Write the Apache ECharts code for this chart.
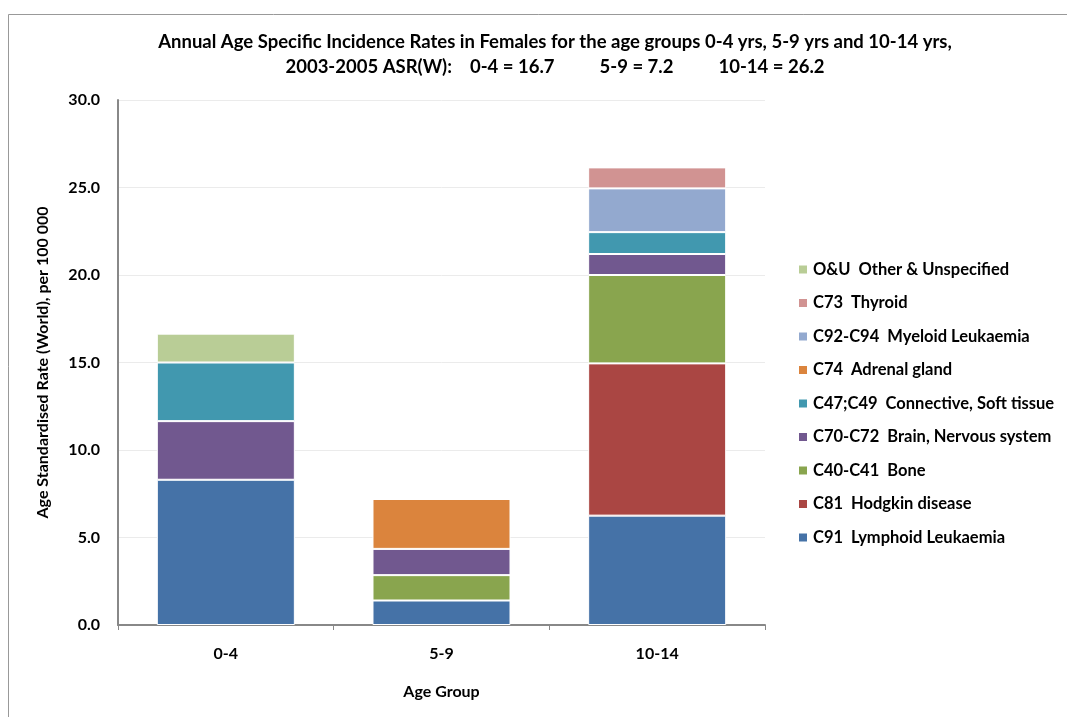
<!DOCTYPE html>
<html>
<head>
<meta charset="utf-8">
<script src="https://cdn.jsdelivr.net/npm/echarts@6/dist/echarts.min.js"></script>
<style>
  html, body { margin: 0; padding: 0; background: #fff; }
  #chart { width: 1067px; height: 717px; }
</style>
</head>
<body>
<div id="chart"></div>
<script>
// age groups on the x axis
var ageGroups = ['0-4', '5-9', '10-14'];

// rates per 100 000, one value per age group (stacked bottom to top)
var lymphoid   = [8.3, 1.4, 6.25];
var hodgkin    = [0, 0, 8.7];
var bone       = [0, 1.45, 5.05];
var brain      = [3.35, 1.5, 1.2];
var connective = [3.35, 0, 1.25];
var adrenal    = [0, 2.85, 0];
var myeloid    = [0, 0, 2.5];
var thyroid    = [0, 0, 1.2];
var other      = [1.65, 0, 0];

var seriesNames = [
  'C91  Lymphoid Leukaemia',
  'C81  Hodgkin disease',
  'C40-C41  Bone',
  'C70-C72  Brain, Nervous system',
  'C47;C49  Connective, Soft tissue',
  'C74  Adrenal gland',
  'C92-C94  Myeloid Leukaemia',
  'C73  Thyroid',
  'O&U  Other & Unspecified'
];
var seriesData = [lymphoid, hodgkin, bone, brain, connective, adrenal, myeloid, thyroid, other];
var colors = ['#4572A7', '#AA4643', '#89A54E', '#71588F', '#4198AF', '#DB843D', '#93A9CF', '#D19392', '#B9CD96'];

var font = 'Lato, "Open Sans", sans-serif';

var myChart = echarts.init(document.getElementById('chart'));

var series = seriesNames.map(function (name, i) {
  return {
    name: name,
    type: 'bar',
    stack: 'total',
    barWidth: '64%',
    data: seriesData[i].map(function (v) { return v === 0 ? null : v; }),
    itemStyle: { color: colors[i], borderColor: '#fff', borderWidth: 1 }
  };
});

var option = {
  backgroundColor: '#fff',
  animation: false,
  title: {
    text: 'Annual Age Specific Incidence Rates in Females for the age groups 0-4 yrs, 5-9 yrs and 10-14 yrs,\n2003-2005 ASR(W):    0-4 = 16.7          5-9 = 7.2          10-14 = 26.2',
    left: 550,
    top: 25,
    textAlign: 'center',
    textStyle: { fontFamily: font, fontSize: 18.5, fontWeight: 'bold', color: '#000', lineHeight: 25 }
  },
  legend: {
    orient: 'vertical',
    left: 792,
    top: 256,
    itemWidth: 10,
    itemHeight: 10,
    itemGap: 16.5,
    icon: 'rect',
    data: seriesNames.slice().reverse(),
    textStyle: { fontFamily: font, fontSize: 16.5, fontWeight: 'bold', color: '#000' }
  },
  grid: { left: 118, right: 302, top: 100, bottom: 92 },
  xAxis: {
    type: 'category',
    data: ageGroups,
    name: 'Age Group',
    nameLocation: 'middle',
    nameGap: 59,
    nameTextStyle: { fontFamily: font, fontSize: 16, fontWeight: 'bold', color: '#000' },
    axisLine: { lineStyle: { color: '#888', width: 2 } },
    axisTick: { show: true, length: 5, lineStyle: { color: '#888' } },
    axisLabel: { fontFamily: font, fontSize: 16, fontWeight: 'bold', color: '#000', margin: 21 }
  },
  yAxis: {
    type: 'value',
    min: 0,
    max: 30,
    interval: 5,
    name: 'Age Standardised Rate (World), per 100 000',
    nameLocation: 'middle',
    nameGap: 67,
    nameTextStyle: { fontFamily: font, fontSize: 16, fontWeight: 'bold', color: '#000' },
    axisLine: { show: true, lineStyle: { color: '#888', width: 2 } },
    axisTick: { show: false },
    axisLabel: {
      fontFamily: font, fontSize: 16, fontWeight: 'bold', color: '#000', margin: 18,
      formatter: function (v) { return v.toFixed(1); }
    },
    splitLine: { lineStyle: { color: '#ebebeb' } }
  },
  graphic: [{
    type: 'rect',
    shape: { x: 8.5, y: 14.5, width: 1070, height: 720 },
    style: { fill: null, stroke: '#999', lineWidth: 1 },
    silent: true
  }],
  series: series
};

myChart.setOption(option);
</script>
</body>
</html>
